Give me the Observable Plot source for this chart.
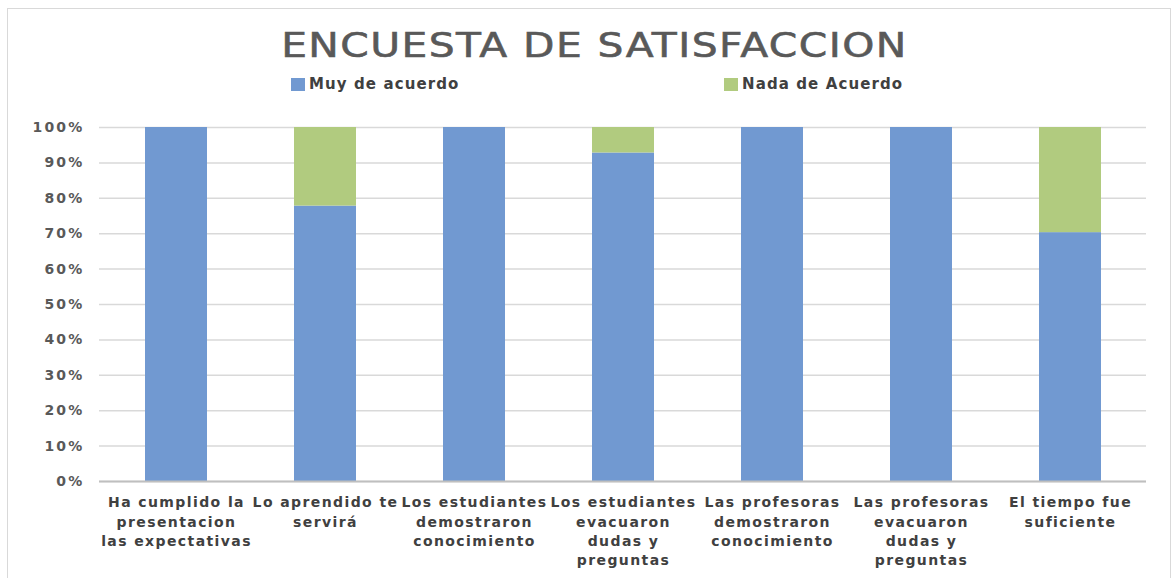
<!DOCTYPE html>
<html>
<head>
<meta charset="utf-8">
<script src="https://cdn.jsdelivr.net/npm/d3@7"></script>
<script src="https://cdn.jsdelivr.net/npm/@observablehq/plot@0.6"></script>
<style>
  html, body { margin: 0; padding: 0; background: #fff; }
  #wrap { position: relative; width: 1174px; height: 578px; overflow: hidden; font-family: "DejaVu Sans", sans-serif; }
  #frame { position: absolute; left: 7px; top: 8px; width: 1164px; height: 600px; border: 1px solid #d9d9d9; box-sizing: border-box; }
  #title { position: absolute; left: 8px; width: 1174px; top: 25px; text-align: center; font-size: 34px; font-weight: 400; letter-spacing: 1.2px; color: #595959; transform: scaleX(1.2); transform-origin: 590px 0; -webkit-text-stroke: 0.6px #595959; }
  .leg { position: absolute; top: 75px; font-size: 15px; font-weight: 700; letter-spacing: 1.1px; color: #404040; display: flex; align-items: center; white-space: nowrap; }
  .sw { display: inline-block; width: 14px; height: 13px; margin-right: 4px; }
  #chart { position: absolute; left: 0; top: 100px; }
  #chart g[aria-label="y-axis tick label"] text { letter-spacing: 2.2px; }
  #chart g[aria-label="x-axis tick label"] text { letter-spacing: 1.4px; }
</style>
</head>
<body>
<div id="wrap">
  <div id="frame"></div>
  <div id="title">ENCUESTA DE SATISFACCION</div>
  <div id="legend"></div>
  <div id="chart"></div>
</div>
<script>
const categories = [
  "Ha cumplido la\npresentacion\nlas expectativas",
  "Lo aprendido te\nservirá",
  "Los estudiantes\ndemostraron\nconocimiento",
  "Los estudiantes\nevacuaron\ndudas y\npreguntas",
  "Las profesoras\ndemostraron\nconocimiento",
  "Las profesoras\nevacuaron\ndudas y\npreguntas",
  "El tiempo fue\nsuficiente"
];
const seriesNames = ["Muy de acuerdo", "Nada de Acuerdo"];
const muyDeAcuerdo = [1.00, 0.778, 1.00, 0.928, 1.00, 1.00, 0.703];
const nadaDeAcuerdo = [0.00, 0.222, 0.00, 0.072, 0.00, 0.00, 0.297];
const yTicks = [0, 0.1, 0.2, 0.3, 0.4, 0.5, 0.6, 0.7, 0.8, 0.9, 1.0];
const colors = ["#7199d1", "#b1cb7f"];

const data = [];
categories.forEach((c, i) => {
  data.push({cat: c, series: seriesNames[0], value: muyDeAcuerdo[i]});
  data.push({cat: c, series: seriesNames[1], value: nadaDeAcuerdo[i]});
});

// legend
const legend = document.getElementById("legend");
const legPos = [291, 724];
seriesNames.forEach((s, i) => {
  const d = document.createElement("div");
  d.className = "leg";
  d.style.left = legPos[i] + "px";
  d.innerHTML = `<span class="sw" style="background:${colors[i]}"></span>${s}`;
  legend.appendChild(d);
});

const plot = Plot.plot({
  width: 1174,
  height: 478,
  marginTop: 27,
  marginBottom: 97,
  marginLeft: 99,
  marginRight: 28,
  style: {fontFamily: "DejaVu Sans, sans-serif", background: "transparent"},
  x: {domain: categories, paddingInner: 0.585, paddingOuter: 0.2925, label: null},
  y: {domain: [0, 1], label: null},
  color: {domain: seriesNames, range: colors},
  marks: [
    Plot.gridY(yTicks, {stroke: "#d9d9d9", strokeOpacity: 1, strokeWidth: 1.5}),
    Plot.barY(data, {x: "cat", y: "value", fill: "series", order: seriesNames}),
    Plot.ruleY([0], {stroke: "#bfbfbf", strokeWidth: 2}),
    Plot.axisY(yTicks, {tickFormat: d3.format(".0%"), tickSize: 0, tickPadding: 15, fontSize: 14, fontWeight: 700, fill: "#595959", label: null}),
    Plot.axisX({tickSize: 0, tickPadding: 12, fontSize: 14, fontWeight: 700, fill: "#404040", lineHeight: 1.38, label: null, textOverflow: null, lineWidth: Infinity})
  ]
});
document.getElementById("chart").appendChild(plot);
</script>
</body>
</html>
